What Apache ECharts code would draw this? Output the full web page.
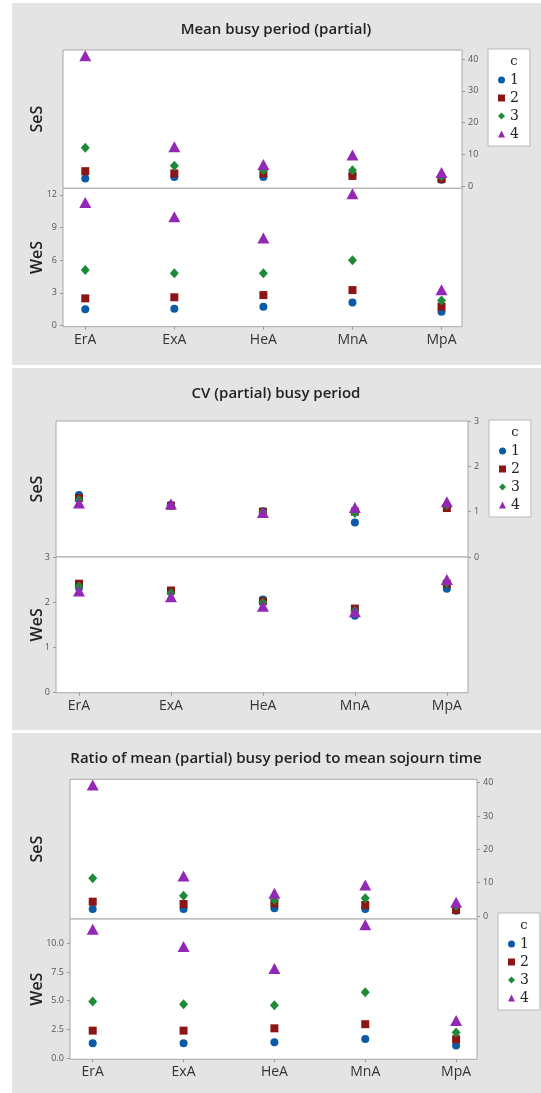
<!DOCTYPE html>
<html>
<head>
<meta charset="utf-8">
<script src="https://cdn.jsdelivr.net/npm/echarts@6/dist/echarts.min.js"></script>
<style>
html, body { margin: 0; padding: 0; background: #fff; }
#chart { width: 541px; height: 1093px; }
</style>
</head>
<body>
<div id="chart"></div>
<script>
var categories = ['ErA', 'ExA', 'HeA', 'MnA', 'MpA'];
var cLevels = ['1', '2', '3', '4'];

// one row per c level, one value per category
var busySeS = [
  [2.4, 2.9, 2.9, 3.5, 2.0],
  [4.7, 4.0, 4.0, 3.2, 2.2],
  [12.1, 6.4, 5.0, 5.0, 3.0],
  [41.1, 12.4, 6.8, 9.8, 4.3]
];
var busyWeS = [
  [1.5, 1.55, 1.74, 2.13, 1.28],
  [2.5, 2.6, 2.8, 3.26, 1.74],
  [5.1, 4.8, 4.8, 6.0, 2.3],
  [11.3, 10.0, 8.05, 12.1, 3.3]
];
var cvSeS = [
  [1.37, 1.15, 1.01, 0.76, 1.12],
  [1.30, 1.13, 1.0, 1.0, 1.08],
  [1.26, 1.14, 0.99, 0.97, 1.15],
  [1.19, 1.17, 0.98, 1.09, 1.22]
];
var cvWeS = [
  [2.32, 2.23, 2.06, 1.70, 2.30],
  [2.41, 2.26, 2.02, 1.86, 2.41],
  [2.35, 2.20, 1.99, 1.81, 2.43],
  [2.25, 2.12, 1.91, 1.79, 2.50]
];
var ratioSeS = [
  [2.1, 2.1, 2.3, 2.1, 1.6],
  [4.3, 3.6, 3.8, 3.3, 1.8],
  [11.3, 6.1, 4.8, 5.3, 3.1],
  [39.3, 12.0, 6.8, 9.3, 4.1]
];
var ratioWeS = [
  [1.3, 1.3, 1.4, 1.68, 1.1],
  [2.4, 2.4, 2.6, 2.96, 1.65],
  [4.93, 4.7, 4.6, 5.74, 2.23],
  [11.2, 9.7, 7.8, 11.6, 3.28]
];

var busySeSTicks = [0, 10, 20, 30, 40];
var busyWeSTicks = [0, 3, 6, 9, 12];
var cvSeSTicks = [0, 1, 2, 3];
var cvWeSTicks = [0, 1, 2, 3];
var ratioSeSTicks = [0, 10, 20, 30, 40];
var ratioWeSTicks = [0, 2.5, 5, 7.5, 10];

var symbols = ['circle', 'rect', 'diamond', 'triangle'];
var sizes = [8, 8, [9, 10], [12, 11]];
var colors = ['#0a5aa8', '#8c1616', '#1c8a36', '#9428b6'];

var panels = [
  { title: 'Mean busy period (partial)', titleY: 30, left: 63, right: 462,
    top: 50, mid: 188.3, bottom: 326.7,
    ses: busySeS, wes: busyWeS, sesRange: [-0.7, 42.9], wesRange: [-0.1, 12.6],
    sesTicks: busySeSTicks, wesTicks: busyWeSTicks, fmt: null,
    legend: [488, 49] },
  { title: 'CV (partial) busy period', titleY: 394, left: 56, right: 468,
    top: 421, mid: 557, bottom: 692.7,
    ses: cvSeS, wes: cvWeS, sesRange: [0, 3], wesRange: [0, 3],
    sesTicks: cvSeSTicks, wesTicks: cvWeSTicks, fmt: null,
    legend: [489, 420] },
  { title: 'Ratio of mean (partial) busy period to mean sojourn time', titleY: 759, left: 70, right: 477,
    top: 779.3, mid: 919, bottom: 1059.3,
    ses: ratioSeS, wes: ratioWeS, sesRange: [-0.9, 41], wesRange: [-0.09, 12.1],
    sesTicks: ratioSeSTicks, wesTicks: ratioWeSTicks, fmt: function (v) { return v.toFixed(1); },
    legend: [498, 913] }
];

var grids = [], xAxes = [], yAxes = [], series = [], legends = [];
var graphics = [
  { type: 'rect', z: -10, shape: { x: 12, y: 3, width: 529, height: 362 }, style: { fill: '#e4e4e4' } },
  { type: 'rect', z: -10, shape: { x: 12, y: 368, width: 529, height: 362 }, style: { fill: '#e4e4e4' } },
  { type: 'rect', z: -10, shape: { x: 12, y: 733, width: 529, height: 360 }, style: { fill: '#e4e4e4' } }
];

panels.forEach(function (p, pi) {
  graphics.push({
    type: 'text', x: 276, y: p.titleY, z: 100,
    style: { text: p.title, fontFamily: 'Open Sans', fontWeight: 600, fontSize: 15, fill: '#222',
             textAlign: 'center', textVerticalAlign: 'middle' }
  });
  [['SeS', (p.top + p.mid) / 2], ['WeS', (p.mid + p.bottom) / 2]].forEach(function (lab) {
    graphics.push({
      type: 'text', x: 37, y: lab[1], rotation: Math.PI / 2, z: 100,
      style: { text: lab[0], fontFamily: 'Open Sans', fontWeight: 600, fontSize: 16, fill: '#222',
               textAlign: 'center', textVerticalAlign: 'middle' }
    });
  });
  graphics.push({
    type: 'text', x: p.legend[0] + 26, y: p.legend[1] + 13, z: 100, zlevel: 1,
    style: { text: 'c', fontFamily: 'DejaVu Serif', fontSize: 13, fill: '#222',
             textAlign: 'center', textVerticalAlign: 'middle' }
  });

  legends.push({
    left: p.legend[0], top: p.legend[1], orient: 'vertical', data: cLevels,
    itemWidth: 7, itemHeight: 7, itemGap: 4, selectedMode: false,
    padding: [24, 11, 5, 10], backgroundColor: '#fff', borderColor: '#b8b8b8', borderWidth: 1,
    textStyle: { fontFamily: 'DejaVu Serif', fontSize: 14, lineHeight: 14, color: '#222' }
  });

  ['ses', 'wes'].forEach(function (part, si) {
    var gi = grids.length;
    var isWes = si === 1;
    grids.push({
      left: p.left, width: p.right - p.left,
      top: isWes ? p.mid : p.top, height: isWes ? p.bottom - p.mid : p.mid - p.top,
      show: true, backgroundColor: '#fff', borderColor: '#a8a8a8', borderWidth: 1
    });
    xAxes.push({
      gridIndex: gi, type: 'value', min: -0.25, max: 4.23, position: 'bottom',
      axisLine: { show: false, onZero: false }, splitLine: { show: false },
      axisTick: { show: isWes, customValues: [0, 1, 2, 3, 4], length: 3, lineStyle: { color: '#999' } },
      axisLabel: { show: isWes, customValues: [0, 1, 2, 3, 4], margin: 6,
                   formatter: function (v) { return categories[v]; },
                   fontFamily: 'Open Sans', fontSize: 14, color: '#333' }
    });
    var range = isWes ? p.wesRange : p.sesRange;
    var ticks = isWes ? p.wesTicks : p.sesTicks;
    yAxes.push({
      gridIndex: gi, type: 'value', position: isWes ? 'left' : 'right',
      min: range[0], max: range[1],
      axisLine: { show: false, onZero: false }, splitLine: { show: false },
      axisTick: { show: true, customValues: ticks, length: 3, lineStyle: { color: '#999' } },
      axisLabel: { customValues: ticks, margin: 6, fontFamily: 'Open Sans', fontSize: 9, color: '#555',
                   formatter: isWes && p.fmt ? p.fmt : function (v) { return String(v); } }
    });
    p[part].forEach(function (vals, ci) {
      series.push({
        type: 'scatter', name: cLevels[ci], xAxisIndex: gi, yAxisIndex: gi,
        symbol: symbols[ci], symbolSize: sizes[ci],
        itemStyle: { color: colors[ci], opacity: 1 },
        data: vals.map(function (v, k) { return [k, v]; })
      });
    });
  });
});

var chart = echarts.init(document.getElementById('chart'));
chart.setOption({
  animation: false,
  backgroundColor: '#fff',
  grid: grids,
  xAxis: xAxes,
  yAxis: yAxes,
  legend: legends,
  graphic: graphics,
  series: series
});
</script>
</body>
</html>
